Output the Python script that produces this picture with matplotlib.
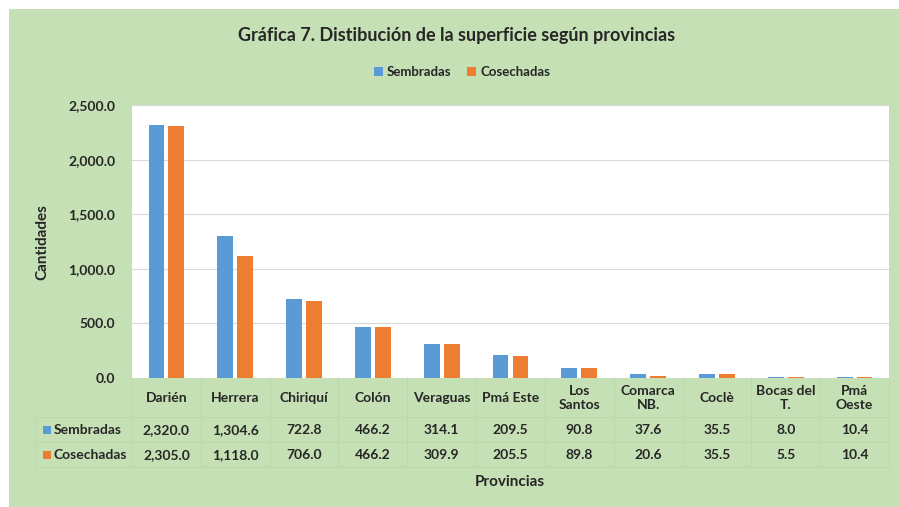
import matplotlib.pyplot as plt
import matplotlib.transforms as mtransforms
from matplotlib.patches import Rectangle
from matplotlib.lines import Line2D
import numpy as np

provincias = ['Darién', 'Herrera', 'Chiriquí', 'Colón', 'Veraguas', 'Pmá Este',
              'Los\nSantos', 'Comarca\nNB.', 'Coclè', 'Bocas del\nT.', 'Pmá\nOeste']
sembradas = [2320.0, 1304.6, 722.8, 466.2, 314.1, 209.5, 90.8, 37.6, 35.5, 8.0, 10.4]
cosechadas = [2305.0, 1118.0, 706.0, 466.2, 309.9, 205.5, 89.8, 20.6, 35.5, 5.5, 10.4]
yticks = [0, 500, 1000, 1500, 2000, 2500]

blue = '#5B9BD5'
orange = '#ED7D31'
green = '#C5E0B4'
txt = '#262626'
line_c = '#BCD8AB'

plt.rcParams['font.family'] = ['Lato', 'DejaVu Sans']

W, H = 899, 507
dpi = 100
fig = plt.figure(figsize=(W / dpi, H / dpi), dpi=dpi)
fig.patch.set_facecolor('white')
# green chart area, with a small white margin top/left
fig.patches.append(Rectangle((9 / W, 0), 1 - 9 / W, 1 - 9 / H, transform=fig.transFigure,
                             facecolor=green, edgecolor='none', zorder=-10))


def fy(py):
    return 1 - py / H


ax = fig.add_axes([132 / W, fy(378), (889 - 132) / W, (378 - 105) / H])
ax.set_facecolor('white')
x = np.arange(len(provincias))
w = 0.23
ax.bar(x - 0.145, sembradas, w, color=blue, zorder=3)
ax.bar(x + 0.145, cosechadas, w, color=orange, zorder=3)
ax.set_xlim(-0.5, len(provincias) - 0.5)
ax.set_ylim(0, 2500)
ax.set_yticks(yticks)
ax.set_yticklabels([f'{v:,.1f}' for v in yticks], fontsize=10, fontweight='bold', color=txt)
ax.set_xticks([])
ax.tick_params(axis='y', length=0, pad=12)
ax.grid(axis='y', color='#D9D9D9', linewidth=0.8, zorder=0)
for s in ax.spines.values():
    s.set_visible(False)

# data table under the axis
tr = mtransforms.blended_transform_factory(ax.transData, fig.transFigure)
ftr = fig.transFigure
for i, name in enumerate(provincias):
    ax.text(i, fy(398), name, transform=tr, ha='center', va='center', fontsize=10,
            fontweight='bold', color=txt, linespacing=1.25)
    ax.text(i, fy(430), f'{sembradas[i]:,.1f}', transform=tr, ha='center', va='center',
            fontsize=10, fontweight='bold', color=txt)
    ax.text(i, fy(455), f'{cosechadas[i]:,.1f}', transform=tr, ha='center', va='center',
            fontsize=10, fontweight='bold', color=txt)

for b in np.arange(-0.5, len(provincias), 1.0):
    ax.add_line(Line2D([b, b], [fy(378), fy(467)], transform=tr, color=line_c,
                       linewidth=0.7, clip_on=False))
for py in [417, 442, 467]:
    fig.add_artist(Line2D([35 / W, 889 / W], [fy(py), fy(py)], transform=ftr,
                          color=line_c, linewidth=0.7))
fig.add_artist(Line2D([35 / W, 35 / W], [fy(417), fy(467)], transform=ftr,
                      color=line_c, linewidth=0.7))

for py, lab, col in [(430, 'Sembradas', blue), (455, 'Cosechadas', orange)]:
    fig.patches.append(Rectangle((43 / W, fy(py) - 4 / H), 8 / W, 8 / H, transform=ftr,
                                 facecolor=col, edgecolor='none'))
    fig.text(54 / W, fy(py), lab, ha='left', va='center', fontsize=10,
             fontweight='bold', color=txt)

fig.text(42 / W, fy(242), 'Cantidades', rotation=90, ha='center', va='center',
         fontsize=11, fontweight='bold', color=txt)
fig.text(510 / W, fy(482), 'Provincias', ha='center', va='center',
         fontsize=11, fontweight='bold', color=txt)
fig.text(457 / W, fy(35), 'Gráfica 7. Distibución de la superficie según provincias',
         ha='center', va='center', fontsize=13, fontweight='bold', color=txt)

handles = [Rectangle((0, 0), 1, 1, facecolor=blue), Rectangle((0, 0), 1, 1, facecolor=orange)]
leg = fig.legend(handles, ['Sembradas', 'Cosechadas'], loc='center', ncol=2,
                 bbox_to_anchor=(462 / W, fy(72)), frameon=False, handlelength=0.7,
                 handleheight=0.7, handletextpad=0.3, columnspacing=1.2,
                 prop={'size': 9.5, 'weight': 'bold'})
for t in leg.get_texts():
    t.set_color(txt)

fig.savefig('out.png', dpi=dpi)
